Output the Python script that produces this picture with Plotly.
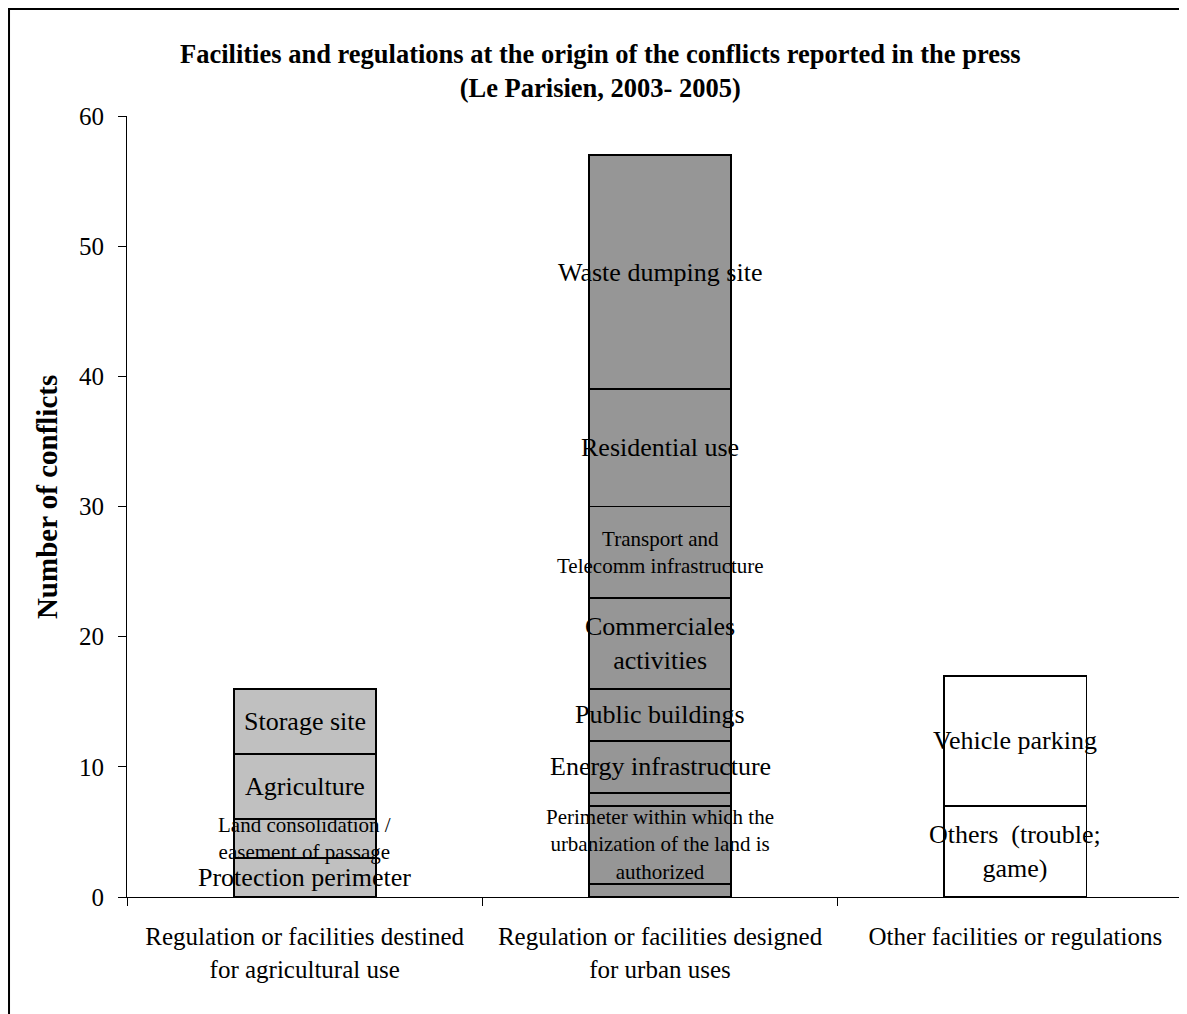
import plotly.graph_objects as go

categories = [
    "Regulation or facilities destined<br>for agricultural use",
    "Regulation or facilities designed<br>for urban uses",
    "Other facilities or regulations",
]

agri_labels = ["Protection perimeter", "Land consolidation /<br>easement of passage", "Agriculture", "Storage site"]
agri_values = [3, 3, 5, 5]

urban_labels = ["", "Perimeter within which the<br>urbanization of the land is<br>authorized", "", "Energy infrastructure",
                "Public buildings", "Commerciales<br>activities", "Transport and<br>Telecomm infrastructure",
                "Residential use", "Waste dumping site"]
urban_values = [1, 6, 1, 4, 4, 7, 7, 9, 18]

other_labels = ["Others  (trouble;<br>game)", "Vehicle parking"]
other_values = [7, 10]

small_labels = {"Land consolidation /<br>easement of passage",
                "Perimeter within which the<br>urbanization of the land is<br>authorized",
                "Transport and<br>Telecomm infrastructure"}

groups = [
    (categories[0], agri_labels, agri_values, "#C0C0C0"),
    (categories[1], urban_labels, urban_values, "#969696"),
    (categories[2], other_labels, other_values, "#FFFFFF"),
]

FONT = "Liberation Serif, Times New Roman, serif"

fig = go.Figure()
annotations = []
for cat, labels, values, color in groups:
    base = 0
    for lab, val in zip(labels, values):
        fig.add_trace(go.Bar(
            x=[cat], y=[val], width=0.4,
            marker=dict(color=color, line=dict(color="black", width=1.8)),
            showlegend=False, hoverinfo="skip",
        ))
        if lab:
            annotations.append(dict(
                x=cat, y=base + val / 2, xref="x", yref="y", text=lab, showarrow=False,
                font=dict(family=FONT, size=21 if lab in small_labels else 26, color="black"),
                xanchor="center", yanchor="middle",
            ))
        base += val

annotations.append(dict(
    x=0.447, y=1.0576, xref="paper", yref="paper", showarrow=False,
    text="<b>Facilities and regulations at the origin of the conflicts reported in the press<br>(Le Parisien, 2003- 2005)</b>",
    font=dict(family=FONT, size=26.5, color="black"), xanchor="center", yanchor="middle",
))
annotations.append(dict(
    x=-0.0755, y=0.512, xref="paper", yref="paper", showarrow=False, textangle=-90,
    text="<b>Number of conflicts</b>",
    font=dict(family=FONT, size=29, color="black"), xanchor="center", yanchor="middle",
))

fig.update_layout(
    barmode="stack",
    width=1179, height=1006,
    margin=dict(l=119, r=0, t=108, b=117, autoexpand=False),
    paper_bgcolor="white", plot_bgcolor="white",
    font=dict(family=FONT, size=25, color="black"),
    annotations=annotations,
    shapes=[dict(type="rect", xref="paper", yref="paper",
                 x0=-0.1113, x1=1.05, y0=-0.2, y1=1.1370,
                 line=dict(color="black", width=2), fillcolor="rgba(0,0,0,0)", layer="below")],
)
fig.update_xaxes(
    type="category", range=[-0.5, 2.483], tickson="boundaries",
    ticks="outside", ticklen=8, tickcolor="black",
    showline=True, linecolor="black", linewidth=1, showgrid=False,
    tickfont=dict(family=FONT, size=25, color="black"), ticklabelstandoff=17,
)
fig.update_yaxes(
    range=[0, 60], dtick=10, ticks="outside", ticklen=8, tickcolor="black",
    showline=True, linecolor="black", linewidth=1, showgrid=False, zeroline=False,
    tickfont=dict(family=FONT, size=25, color="black"), ticklabelstandoff=9,
)

fig.write_html("out.html")
